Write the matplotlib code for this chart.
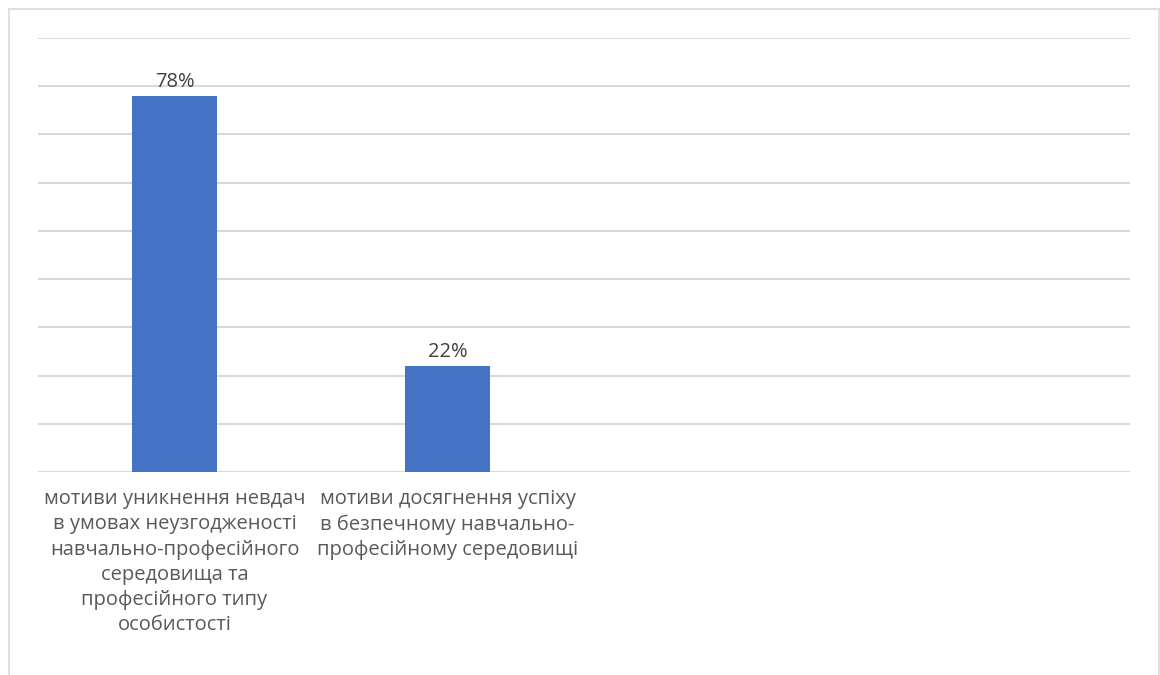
import matplotlib.pyplot as plt
from matplotlib.lines import Line2D

categories = [
    "мотиви уникнення невдач\nв умовах неузгодженості\nнавчально-професійного\nсередовища та\nпрофесійного типу\nособистості",
    "мотиви досягнення успіху\nв безпечному навчально-\nпрофесійному середовищі",
    "",
    "",
]
values = [78, 22, None, None]
value_labels = ["78%", "22%", "", ""]

plt.rcParams['font.family'] = ['Open Sans', 'DejaVu Sans']

fig = plt.figure(figsize=(11.6, 6.75), dpi=100)
ax = fig.add_axes([38 / 1160, 203 / 675, 1092 / 1160, 434 / 675])

x = list(range(len(categories)))
heights = [v if v is not None else 0 for v in values]
bars = ax.bar(x, heights, width=0.31, color='#4472C4', zorder=3)

for b, v, lab in zip(bars, values, value_labels):
    if v is None:
        b.set_visible(False)
        continue
    ax.text(b.get_x() + b.get_width() / 2, v + 0.8, lab, ha='center', va='bottom',
            fontsize=14.5, color='#404040')

ax.set_xlim(-0.5, len(categories) - 0.5)
ax.set_ylim(0, 90)
ax.set_yticks(range(0, 91, 10))
ax.yaxis.grid(True, color='#d9d9d9', linewidth=1.5, zorder=0)
ax.tick_params(axis='y', left=False, labelleft=False)
ax.tick_params(axis='x', bottom=False, pad=9)
ax.set_xticks(x)
ax.set_xticklabels(categories, fontsize=14.5, color='#595959', linespacing=1.34)
for s in ax.spines.values():
    s.set_visible(False)

# chart frame: top, left and right edges
fc = '#d9d9d9'
fig.add_artist(Line2D([9 / 1160, 1159 / 1160], [666 / 675, 666 / 675], color=fc, lw=1.2))
fig.add_artist(Line2D([9 / 1160, 9 / 1160], [0, 666 / 675], color=fc, lw=1.2))
fig.add_artist(Line2D([1159 / 1160, 1159 / 1160], [0, 666 / 675], color=fc, lw=1.2))

fig.savefig('out.png', dpi=100)
